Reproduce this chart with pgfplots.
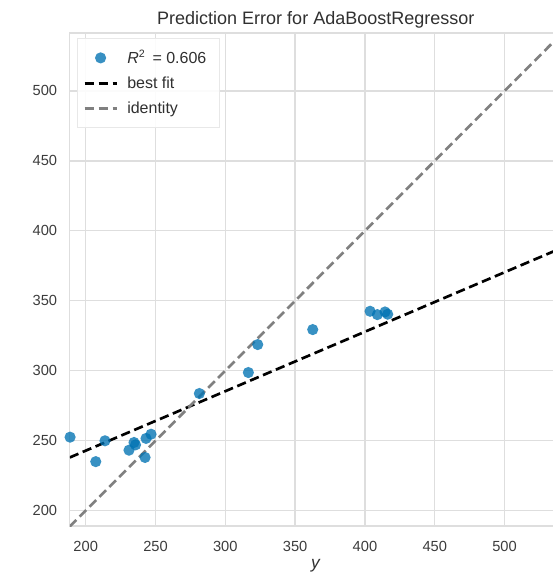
\documentclass[border=0pt]{standalone}
\usepackage{pgfplots}
\pgfplotsset{compat=1.18}
\usepackage{fontspec}
\setmainfont{Liberation Sans}

\definecolor{pointblue}{RGB}{0,114,178}
\definecolor{gridgrey}{RGB}{222,222,222}
\definecolor{ticktext}{RGB}{60,60,60}
\definecolor{identgrey}{RGB}{128,128,128}

\begin{document}
\begin{tikzpicture}
\begin{axis}[
  scale only axis,
  width=369pt, height=369.75pt,
  xmin=188.6, xmax=541, ymin=189, ymax=541.4,
  xtick={200,250,...,500}, ytick={200,250,...,500},
  grid=major,
  major grid style={gridgrey, line width=1pt},
  axis line style={gridgrey, line width=1pt},
  major tick length=0pt,
  /pgf/number format/assume math mode=true,
  tick label style={font=\fontsize{11}{13}\selectfont, text=ticktext},
  xticklabel style={yshift=-8pt},
  yticklabel style={xshift=-6pt},
  title={Prediction Error for AdaBoostRegressor},
  title style={at={(axis description cs:0.5,1)}, anchor=center, yshift=4pt,
    font=\fontsize{13.5}{16}\selectfont, text=ticktext!80!black},
  xlabel={\textit{y}},
  xlabel style={at={(axis description cs:0.5,0)}, anchor=center, yshift=-30pt,
    font=\fontsize{13}{15}\selectfont, text=ticktext!80!black},
  legend cell align=left,
  legend style={at={(axis description cs:0,1)}, anchor=north west,
    xshift=5.4pt, yshift=-3.75pt, draw=gridgrey!70, fill=white, fill opacity=0.9, text opacity=1,
    font=\fontsize{12}{14}\selectfont, text=ticktext!80!black,
    row sep=4.5pt, inner xsep=4.5pt, inner ysep=7pt,
    nodes={inner xsep=5pt}},
]
% predicted vs. actual values
\addplot[only marks, mark=*, mark size=4.2pt,
  mark options={draw=pointblue, draw opacity=0, fill=pointblue, fill opacity=0.78},
  legend image code/.code={%
    \path[draw=none, fill=none] (0pt,0pt) -- (27pt,0pt);
    \path[draw=none, fill=pointblue, fill opacity=0.78] (12pt,0pt) circle (4.2pt);}]
  coordinates {
  (188.8,252.5) (207.2,235.0) (213.8,249.9) (231.0,243.2) (234.6,248.7)
  (235.7,247.0) (242.5,238.0) (243.2,251.6) (246.8,254.6) (281.4,283.7)
  (316.5,298.7) (323.2,318.7) (362.6,329.4) (403.7,342.5) (408.9,340.1)
  (414.4,342.0) (416.3,340.4)
  };
\addlegendentry{\textit{R}\textsuperscript{2}\, = 0.606}
% linear fit of the predictions
\addplot[black, line width=2pt, dash pattern=on 7pt off 3.5pt,
  legend image code/.code={%
    \path[draw=none, fill=none] (0pt,0pt) -- (27pt,0pt);
    \draw[black, line width=2pt, dash pattern=on 7pt off 3.5pt] (0pt,0pt) -- (24pt,0pt);}]
  coordinates {(188.6,238.0) (541,387.8)};
\addlegendentry{best fit}
% y = x reference
\addplot[identgrey, line width=2pt, dash pattern=on 7pt off 3.5pt,
  legend image code/.code={%
    \path[draw=none, fill=none] (0pt,0pt) -- (27pt,0pt);
    \draw[identgrey, line width=2pt, dash pattern=on 7pt off 3.5pt] (0pt,0pt) -- (24pt,0pt);}]
  coordinates {(188.6,188.6) (541,541)};
\addlegendentry{identity}
\end{axis}
\pgfresetboundingbox
\path[use as bounding box]
  ([xshift=-52.35pt,yshift=-38.25pt]current axis.south west)
  rectangle ([xshift=362.4pt,yshift=24.75pt]current axis.north west);
\end{tikzpicture}
\end{document}
